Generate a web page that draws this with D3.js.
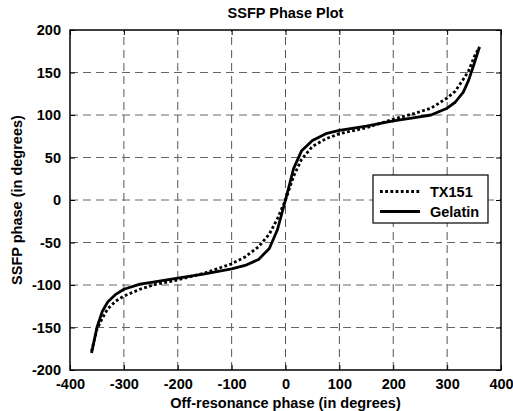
<!DOCTYPE html>
<html>
  <head>
    <meta charset="utf-8">
    <script src="https://d3js.org/d3.v7.min.js"></script>
    <style>
      body { margin: 0; background: #fff; }
      text { font-family: "Liberation Sans", Arial, sans-serif; font-weight: bold; }
    </style>
  </head>
  <body>
    <div id="chart"></div>
    <script>
      // off-resonance phase (degrees)
      const phase = [-360, -350, -340, -330, -315, -300, -270, -240, -200, -150, -100, -75, -50, -30, -15, 0,
                     15, 30, 50, 75, 100, 150, 200, 240, 270, 300, 315, 330, 340, 350, 360];
      const tx151 = [-178, -152, -139, -128, -119, -113, -105, -99, -94, -86, -75, -67, -55, -40, -22, 0,
                     28, 48, 63, 72, 78, 85, 95, 102, 108, 120, 128, 142, 152, 168, 180];
      const gelatin = [-180, -150, -131, -120, -111, -105, -99, -96, -92, -87, -81, -77, -70, -57, -35, 0,
                       37, 58, 70, 78, 82, 87, 93, 97, 100, 108, 115, 127, 141, 160, 180];
      const xTicks = [-400, -300, -200, -100, 0, 100, 200, 300, 400];
      const yTicks = [-200, -150, -100, -50, 0, 50, 100, 150, 200];
      const seriesNames = ["TX151", "Gelatin"];

      const W = 513, H = 411;
      const margin = { top: 30, right: 12, bottom: 41, left: 70 };
      const width = W - margin.left - margin.right;
      const height = H - margin.top - margin.bottom;

      const svg = d3.select("#chart").append("svg")
        .attr("width", W).attr("height", H);
      const g = svg.append("g")
        .attr("transform", `translate(${margin.left},${margin.top})`);

      const x = d3.scaleLinear().domain([-400, 400]).range([0, width]);
      const y = d3.scaleLinear().domain([-200, 200]).range([height, 0]);

      // grid
      g.append("g").selectAll("line").data(xTicks.slice(1, -1)).join("line")
        .attr("x1", d => x(d)).attr("x2", d => x(d))
        .attr("y1", height).attr("y2", 0)
        .attr("stroke", "#555").attr("stroke-dasharray", "8,5");
      g.append("g").selectAll("line").data(yTicks.slice(1, -1)).join("line")
        .attr("y1", d => y(d)).attr("y2", d => y(d))
        .attr("x1", 0).attr("x2", width)
        .attr("stroke", "#666").attr("stroke-dasharray", "8,5");

      // axes (inner ticks)
      const fmt = d => String(d);
      g.append("g").attr("transform", `translate(0,${height})`)
        .call(d3.axisBottom(x).tickValues(xTicks).tickFormat(fmt).tickSizeInner(-5).tickSizeOuter(0).tickPadding(9));
      g.append("g")
        .call(d3.axisLeft(y).tickValues(yTicks).tickFormat(fmt).tickSizeInner(-5).tickSizeOuter(0).tickPadding(9));
      g.append("g")
        .call(d3.axisTop(x).tickValues(xTicks).tickSizeInner(-5).tickSizeOuter(0).tickFormat(""));
      g.append("g").attr("transform", `translate(${width},0)`)
        .call(d3.axisRight(y).tickValues(yTicks).tickSizeInner(-5).tickSizeOuter(0).tickFormat(""));
      g.selectAll(".domain").remove();
      g.selectAll(".tick line").attr("stroke", "#000");
      g.selectAll(".tick text").attr("font-size", 14.5).attr("fill", "#000")
        .style("font-family", "'Liberation Sans', Arial, sans-serif").style("font-weight", "bold");

      // box
      g.append("rect").attr("width", width).attr("height", height)
        .attr("fill", "none").attr("stroke", "#000").attr("stroke-width", 1.5);

      const line = d3.line().x((d, i) => x(phase[i])).y(d => y(d));

      g.append("path").datum(tx151).attr("d", line)
        .attr("fill", "none").attr("stroke", "#000").attr("stroke-width", 2.8)
        .attr("stroke-dasharray", "2.8,2.4");
      g.append("path").datum(gelatin).attr("d", line)
        .attr("fill", "none").attr("stroke", "#000").attr("stroke-width", 2.8)
        .attr("stroke-linejoin", "round");

      // legend
      const lg = svg.append("g").attr("transform", "translate(373,175)");
      lg.append("rect").attr("width", 115).attr("height", 48)
        .attr("fill", "#fff").attr("stroke", "#000").attr("stroke-width", 1.2);
      seriesNames.forEach((name, i) => {
        const ly = 16.5 + i * 20;
        lg.append("line").attr("x1", 7).attr("x2", 47).attr("y1", ly).attr("y2", ly)
          .attr("stroke", "#000").attr("stroke-width", 2.8)
          .attr("stroke-dasharray", i === 0 ? "2.8,2.4" : null);
        lg.append("text").attr("x", 57).attr("y", ly + 5)
          .attr("font-size", 14.5).text(name);
      });

      // titles
      svg.append("text").attr("x", margin.left + width / 2).attr("y", 18)
        .attr("text-anchor", "middle").attr("font-size", 14.5).text("SSFP Phase Plot");
      svg.append("text").attr("x", margin.left + width / 2).attr("y", 408)
        .attr("text-anchor", "middle").attr("font-size", 14.5).text("Off-resonance phase (in degrees)");
      svg.append("text")
        .attr("transform", `translate(22,${margin.top + height / 2}) rotate(-90)`)
        .attr("text-anchor", "middle").attr("font-size", 14.5).text("SSFP phase (in degrees)");
    </script>
  </body>
</html>
